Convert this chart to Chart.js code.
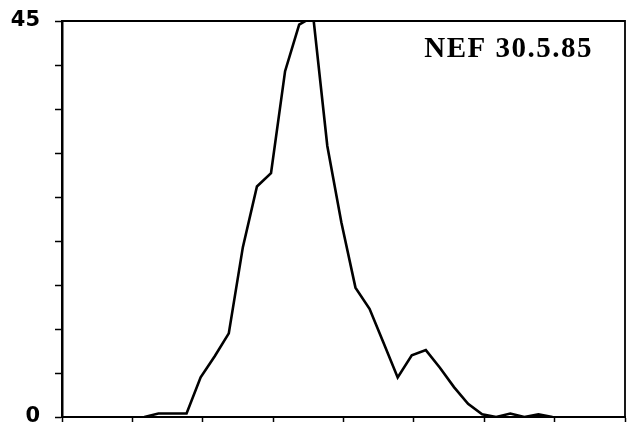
<!DOCTYPE html>
<html>
<head>
<meta charset="utf-8">
<script src="https://cdn.jsdelivr.net/npm/chart.js@4"></script>
<style>
  body { margin: 0; background: #fff; }
  #wrap { width: 628px; height: 435px; }
</style>
</head>
<body>
<div id="wrap"><canvas id="chart" width="628" height="435"></canvas></div>
<script>
// sample positions along the x axis (axis units, major ticks at 0..8)
const times = [1.17, 1.37, 1.57, 1.77, 1.97, 2.17, 2.37, 2.57, 2.77, 2.97,
  3.17, 3.37, 3.57, 3.77, 3.97, 4.17, 4.37, 4.57, 4.77, 4.97,
  5.17, 5.37, 5.57, 5.77, 5.97, 6.17, 6.37, 6.57, 6.77, 6.97];
// counts
const counts = [0, 0.4, 0.4, 0.4, 4.5, 6.9, 9.5, 19.3, 26.2, 27.7,
  39.3, 44.6, 45.5, 30.8, 22.1, 14.7, 12.3, 8.4, 4.5, 7.0,
  7.6, 5.6, 3.4, 1.5, 0.3, 0, 0.4, 0, 0.3, 0];
const yLabels = [0, 45];
const stampText = "NEF 30.5.85";

// frame on top and right side + the stamp text
const framePlugin = {
  id: "frame",
  afterDraw(chart) {
    const { ctx, chartArea: a } = chart;
    ctx.save();
    ctx.strokeStyle = "#000";
    ctx.lineWidth = 1.8;
    ctx.beginPath();
    ctx.moveTo(a.left, a.top);
    ctx.lineTo(a.right, a.top);
    ctx.lineTo(a.right, a.bottom);
    ctx.stroke();

    ctx.fillStyle = "#000";
    ctx.font = "bold 29px 'Liberation Serif', serif";
    ctx.letterSpacing = "1.5px";
    ctx.textAlign = "right";
    ctx.textBaseline = "alphabetic";
    ctx.fillText(stampText, a.right - 32, a.top + 36);
    ctx.restore();
  },
};

new Chart(document.getElementById("chart"), {
  type: "line",
  data: {
    datasets: [
      {
        data: times.map((t, i) => ({ x: t, y: counts[i] })),
        borderColor: "#000",
        borderWidth: 2.6,
        pointRadius: 0,
        tension: 0,
        fill: false,
        clip: 0,
      },
    ],
  },
  options: {
    responsive: false,
    animation: false,
    layout: { padding: { top: 21, right: 3, left: 0, bottom: 0 } },
    plugins: {
      legend: { display: false },
      tooltip: { enabled: false },
    },
    scales: {
      x: {
        type: "linear",
        min: 0,
        max: 8,
        ticks: { stepSize: 1, callback: () => "", padding: 0 },
        grid: {
          drawOnChartArea: false,
          tickLength: 5,
          tickColor: "#000",
          tickWidth: 1.5,
        },
        border: { color: "#000", width: 2 },
        afterFit: (scale) => {
          scale.height = 18;
          scale.paddingLeft = 0;
          scale.paddingRight = 0;
        },
      },
      y: {
        min: 0,
        max: 45,
        ticks: {
          stepSize: 5,
          padding: 15,
          color: "#000",
          font: { family: "'DejaVu Sans', sans-serif", size: 21, weight: "bold" },
          callback: (v) => (yLabels.includes(v) ? String(v) : ""),
        },
        grid: {
          drawOnChartArea: false,
          tickLength: 7,
          tickColor: "#000",
          tickWidth: 1.5,
        },
        border: { color: "#000", width: 2.5 },
        afterFit: (scale) => {
          scale.width = 62;
          scale.paddingTop = 0;
          scale.paddingBottom = 0;
        },
      },
    },
  },
  plugins: [framePlugin],
});
</script>
</body>
</html>
